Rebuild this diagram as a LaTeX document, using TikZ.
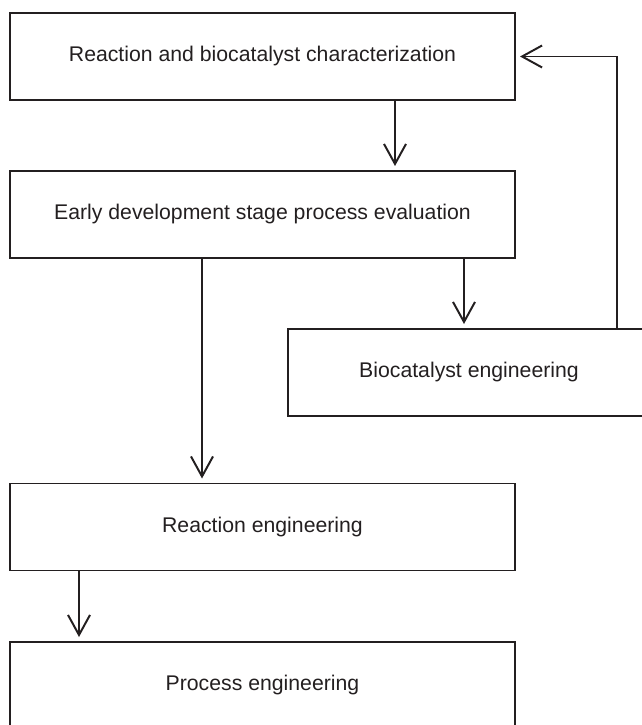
\documentclass[tikz,border=0pt]{standalone}
\usepackage{fontspec}
\setmainfont{Liberation Sans}
\usepackage{xcolor}
\usetikzlibrary{arrows.meta}

\definecolor{inkline}{RGB}{35,31,32}

\tikzset{
  every stage/.style={draw, rectangle, inner sep=0pt,
    minimum width=12.625cm, minimum height=2.175cm,
    font=\fontsize{15.1}{18}\selectfont},
  stage bio/.style={minimum width=9.05cm}
}

\begin{document}
\begin{tikzpicture}[x=0.025cm, y=0.025cm, line width=1.4pt, color=inkline,
  >={Straight Barb[length=0.5cm, width=0.55cm, sep=0.1cm]}]

\useasboundingbox (0,0) rectangle (642,725);

\foreach \n/\y/\l in {char/668.5/Reaction and biocatalyst characterization,
                      eval/510.5/Early development stage process evaluation,
                      reac/198/Reaction engineering,
                      proc/39.5/Process engineering}
  \node [every stage/.try] (\n) at (262.5,\y) {\l};

\node [every stage/.try, stage bio/.try] (bio) at (469,352.5) {Biocatalyst engineering};

% forward flow
\draw [->] (char.south -| 395,0) -- (eval.north -| 395,0);
\draw [->] (eval.south -| 464,0) -- (bio.north -| 464,0);
\draw [->] (eval.south -| 202,0) -- (reac.north -| 202,0);
\draw [->] (reac.south -| 79,0) -- (proc.north -| 79,0);

% feedback loop
\draw [->] (bio.north -| 617,0) |- (char.east);

\end{tikzpicture}
\end{document}
